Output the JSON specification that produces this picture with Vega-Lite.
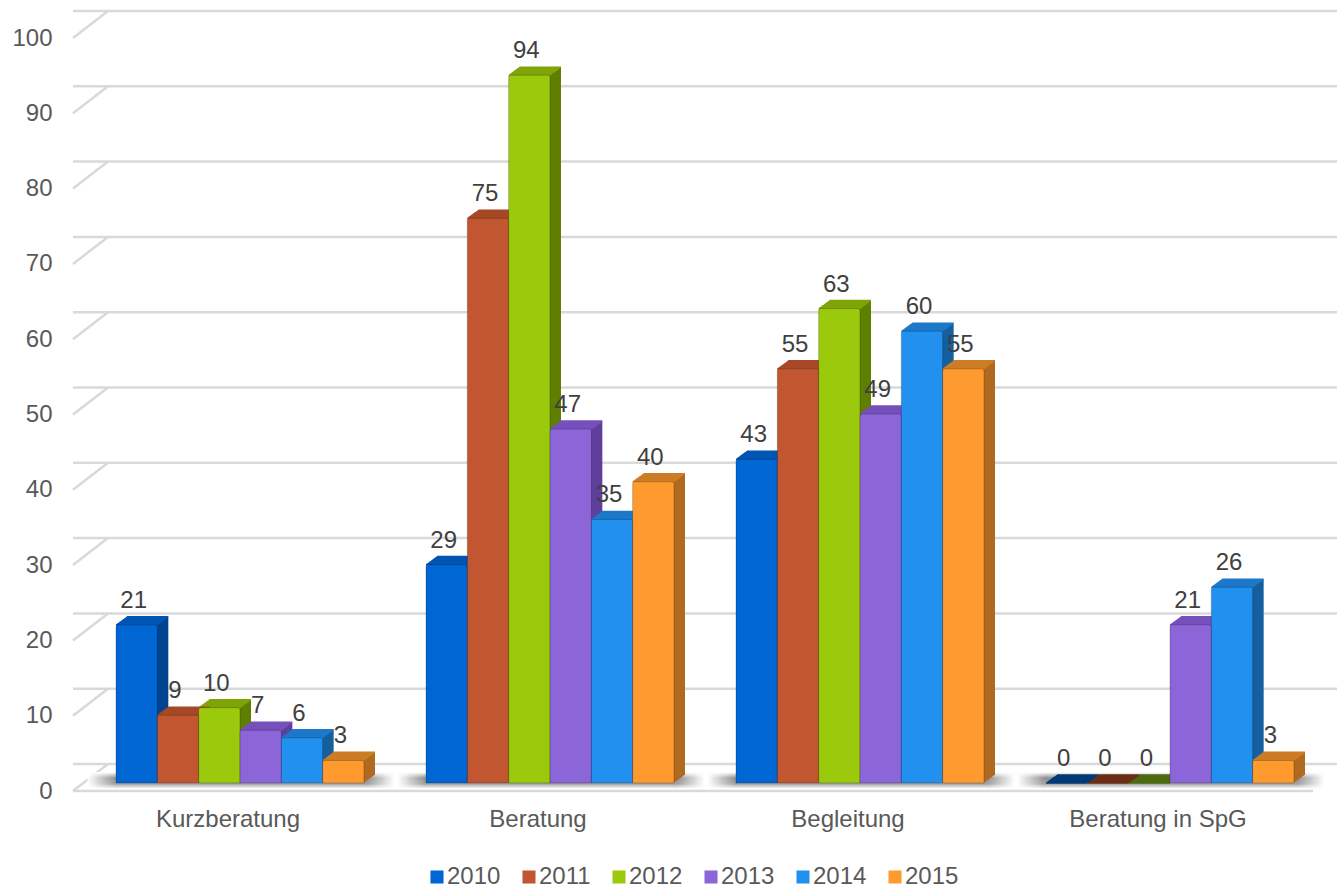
{"$schema":"https://vega.github.io/schema/vega-lite/v6.json","width":1240,"height":753,"autosize":{"type":"none"},"padding":{"left":73,"top":38,"right":24,"bottom":96},"background":"white","config":{"view":{"stroke":null},"font":"Liberation Sans"},
"datasets":{"bars":[
{"cat":"Kurzberatung","year":"2010","v":21},{"cat":"Kurzberatung","year":"2011","v":9},{"cat":"Kurzberatung","year":"2012","v":10},{"cat":"Kurzberatung","year":"2013","v":7},{"cat":"Kurzberatung","year":"2014","v":6},{"cat":"Kurzberatung","year":"2015","v":3},
{"cat":"Beratung","year":"2010","v":29},{"cat":"Beratung","year":"2011","v":75},{"cat":"Beratung","year":"2012","v":94},{"cat":"Beratung","year":"2013","v":47},{"cat":"Beratung","year":"2014","v":35},{"cat":"Beratung","year":"2015","v":40},
{"cat":"Begleitung","year":"2010","v":43},{"cat":"Begleitung","year":"2011","v":55},{"cat":"Begleitung","year":"2012","v":63},{"cat":"Begleitung","year":"2013","v":49},{"cat":"Begleitung","year":"2014","v":60},{"cat":"Begleitung","year":"2015","v":55},
{"cat":"Beratung in SpG","year":"2010","v":0},{"cat":"Beratung in SpG","year":"2011","v":0},{"cat":"Beratung in SpG","year":"2012","v":0},{"cat":"Beratung in SpG","year":"2013","v":21},{"cat":"Beratung in SpG","year":"2014","v":26},{"cat":"Beratung in SpG","year":"2015","v":3}],
"grid":[{"v":0},{"v":10},{"v":20},{"v":30},{"v":40},{"v":50},{"v":60},{"v":70},{"v":80},{"v":90},{"v":100}],
"cats":[{"cat":"Kurzberatung"},{"cat":"Beratung"},{"cat":"Begleitung"},{"cat":"Beratung in SpG"}]},
"layer":[
{"data":{"name":"grid"},"mark":{"type":"rule","color":"#d9d9d9","strokeWidth":2.5,"xOffset":35,"yOffset":-27},"encoding":{"y":{"field":"v","type":"quantitative","scale":{"domain":[0,100],"nice":false},"axis":{"title":null,"values":[0,10,20,30,40,50,60,70,80,90,100],"grid":false,"domain":false,"ticks":false,"labelPadding":21,"labelFontSize":24,"labelColor":"#595959","labelFont":"Liberation Sans"}}}},
{"data":{"name":"grid"},"mark":{"type":"rule","color":"#d9d9d9","strokeWidth":2.5,"x2Offset":35,"y2Offset":-27},"encoding":{"x":{"value":0},"x2":{"value":0},"y":{"field":"v","type":"quantitative"},"y2":{"field":"v"}}},
{"data":{"name":"grid"},"transform":[{"filter":"datum.v==0"}],"mark":{"type":"rule","color":"#d9d9d9","strokeWidth":2.5},"encoding":{"y":{"field":"v","type":"quantitative"}}},
{"data":{"name":"cats"},"encoding":{"x":{"field":"cat","type":"nominal","sort":null,"scale":{"padding":0,"domain":[
"a1","a2","Kurzberatung|2010","a3","Kurzberatung|2011","a4","Kurzberatung|2012","Kurzberatung","Kurzberatung|2013","a5","Kurzberatung|2014","a6","Kurzberatung|2015","a7","a8",
"b1","b2","Beratung|2010","b3","Beratung|2011","b4","Beratung|2012","Beratung","Beratung|2013","b5","Beratung|2014","b6","Beratung|2015","b7","b8",
"c1","c2","Begleitung|2010","c3","Begleitung|2011","c4","Begleitung|2012","Begleitung","Begleitung|2013","c5","Begleitung|2014","c6","Begleitung|2015","c7","c8",
"d1","d2","Beratung in SpG|2010","d3","Beratung in SpG|2011","d4","Beratung in SpG|2012","Beratung in SpG","Beratung in SpG|2013","d5","Beratung in SpG|2014","d6","Beratung in SpG|2015","d7","d8"]},"axis":{"title":null,"values":["Kurzberatung","Beratung","Begleitung","Beratung in SpG"],"labelAngle":0,"domain":false,"ticks":false,"labelPadding":16,"labelFontSize":24,"labelColor":"#595959","labelFont":"Liberation Sans"}},"y":{"datum":2.5,"type":"quantitative"},"y2":{"datum":0.3}},
"layer":[
{"mark":{"type":"bar","xOffset":13,"width":306,"fill":{"gradient":"linear","x1":0,"y1":0,"x2":0,"y2":1,"stops":[{"offset":0,"color":"#ffffff"},{"offset":0.35,"color":"#8f8f8f"},{"offset":0.7,"color":"#a0a0a0"},{"offset":1,"color":"#ffffff"}]}}},
{"mark":{"type":"bar","xOffset":13,"width":307,"fill":{"gradient":"linear","x1":0,"y1":0,"x2":1,"y2":0,"stops":[{"offset":0,"color":"#ffffff"},{"offset":0.09,"color":"#ffffff00"},{"offset":0.91,"color":"#ffffff00"},{"offset":1,"color":"#ffffff"}]}}}
]},
{"data":{"name":"bars"},"transform":[{"calculate":"datum.v==0 ? 'z'+datum.year : datum.year","as":"topKey"},{"calculate":"datum.cat+'|'+datum.year","as":"key"}],
"encoding":{"x":{"field":"key","type":"nominal","sort":null},"y":{"field":"v","type":"quantitative","stack":null}},
"layer":[
{"encoding":{"y2":{"datum":0},"fill":{"field":"year","type":"nominal","legend":null,"scale":{"domain":["2010","2011","2012","2013","2014","2015"],"range":["#004490","#8a3c22","#5f7f00","#5f3f9c","#14609f","#b06a20"]}}},
"layer":[
{"mark":{"type":"bar","width":41.33,"strokeWidth":0,"xOffset":13,"yOffset":-8.7,"y2Offset":-8.7}},
{"mark":{"type":"bar","width":41.33,"strokeWidth":0,"xOffset":14,"yOffset":-9.4,"y2Offset":-9.4}},
{"mark":{"type":"bar","width":41.33,"strokeWidth":0,"xOffset":15,"yOffset":-10.2,"y2Offset":-10.2}},
{"mark":{"type":"bar","width":41.33,"strokeWidth":0,"xOffset":16,"yOffset":-10.9,"y2Offset":-10.9}},
{"mark":{"type":"bar","width":41.33,"strokeWidth":0,"xOffset":17,"yOffset":-11.6,"y2Offset":-11.6}},
{"mark":{"type":"bar","width":41.33,"strokeWidth":0,"xOffset":18,"yOffset":-12.4,"y2Offset":-12.4}},
{"mark":{"type":"bar","width":41.33,"strokeWidth":0,"xOffset":19,"yOffset":-13.1,"y2Offset":-13.1}},
{"mark":{"type":"bar","width":41.33,"strokeWidth":0,"xOffset":20,"yOffset":-13.8,"y2Offset":-13.8}},
{"mark":{"type":"bar","width":41.33,"strokeWidth":0,"xOffset":21,"yOffset":-14.5,"y2Offset":-14.5}},
{"mark":{"type":"bar","width":41.33,"strokeWidth":0,"xOffset":22,"yOffset":-15.3,"y2Offset":-15.3}},
{"mark":{"type":"bar","width":41.33,"strokeWidth":0,"xOffset":23,"yOffset":-16,"y2Offset":-16}}
]},
{"encoding":{"y2":{"field":"v"},"stroke":{"field":"topKey","type":"nominal","legend":null,"scale":{"domain":["2010","2011","2012","2013","2014","2015","z2010","z2011","z2012"],"range":["#0056b4","#a64826","#7fa408","#7650bc","#1d78c8","#cc7c25","#003a75","#6b2e17","#4f6a10"]}}},
"layer":[
{"mark":{"type":"bar","width":41.33,"strokeWidth":1.6,"fillOpacity":0,"xOffset":12,"yOffset":-8,"y2Offset":-8}},
{"mark":{"type":"bar","width":41.33,"strokeWidth":1.6,"fillOpacity":0,"xOffset":13,"yOffset":-8.7,"y2Offset":-8.7}},
{"mark":{"type":"bar","width":41.33,"strokeWidth":1.6,"fillOpacity":0,"xOffset":14,"yOffset":-9.4,"y2Offset":-9.4}},
{"mark":{"type":"bar","width":41.33,"strokeWidth":1.6,"fillOpacity":0,"xOffset":15,"yOffset":-10.2,"y2Offset":-10.2}},
{"mark":{"type":"bar","width":41.33,"strokeWidth":1.6,"fillOpacity":0,"xOffset":16,"yOffset":-10.9,"y2Offset":-10.9}},
{"mark":{"type":"bar","width":41.33,"strokeWidth":1.6,"fillOpacity":0,"xOffset":17,"yOffset":-11.6,"y2Offset":-11.6}},
{"mark":{"type":"bar","width":41.33,"strokeWidth":1.6,"fillOpacity":0,"xOffset":18,"yOffset":-12.4,"y2Offset":-12.4}},
{"mark":{"type":"bar","width":41.33,"strokeWidth":1.6,"fillOpacity":0,"xOffset":19,"yOffset":-13.1,"y2Offset":-13.1}},
{"mark":{"type":"bar","width":41.33,"strokeWidth":1.6,"fillOpacity":0,"xOffset":20,"yOffset":-13.8,"y2Offset":-13.8}},
{"mark":{"type":"bar","width":41.33,"strokeWidth":1.6,"fillOpacity":0,"xOffset":21,"yOffset":-14.5,"y2Offset":-14.5}},
{"mark":{"type":"bar","width":41.33,"strokeWidth":1.6,"fillOpacity":0,"xOffset":22,"yOffset":-15.3,"y2Offset":-15.3}},
{"mark":{"type":"bar","width":41.33,"strokeWidth":1.6,"fillOpacity":0,"xOffset":23,"yOffset":-16,"y2Offset":-16}}
]},
{"transform":[{"filter":"datum.v>0"}],"mark":{"type":"bar","width":41.33,"xOffset":12,"yOffset":-8,"y2Offset":-8,"cornerRadiusTopLeft":2,"cornerRadiusTopRight":2,"stroke":"#00000038","strokeWidth":1},"encoding":{"y2":{"datum":0},"color":{"field":"year","type":"nominal","scale":{"range":["#0066d4","#c25631","#9bc90b","#8c66d9","#2290ee","#ff9a2e"]},"legend":{"title":null,"orient":"none","legendX":352,"legendY":827,"direction":"horizontal","columns":6,"symbolType":"square","symbolSize":170,"symbolStrokeWidth":0,"labelFontSize":24,"labelColor":"#595959","labelFont":"Liberation Sans","labelOffset":-2,"columnPadding":16,"padding":0}}}},
{"mark":{"type":"text","fontSize":24,"font":"Liberation Sans","color":"#404040","dx":9,"dy":-32,"baseline":"middle","align":"center"},"encoding":{"text":{"field":"v","type":"quantitative"}}}
]}
]}
